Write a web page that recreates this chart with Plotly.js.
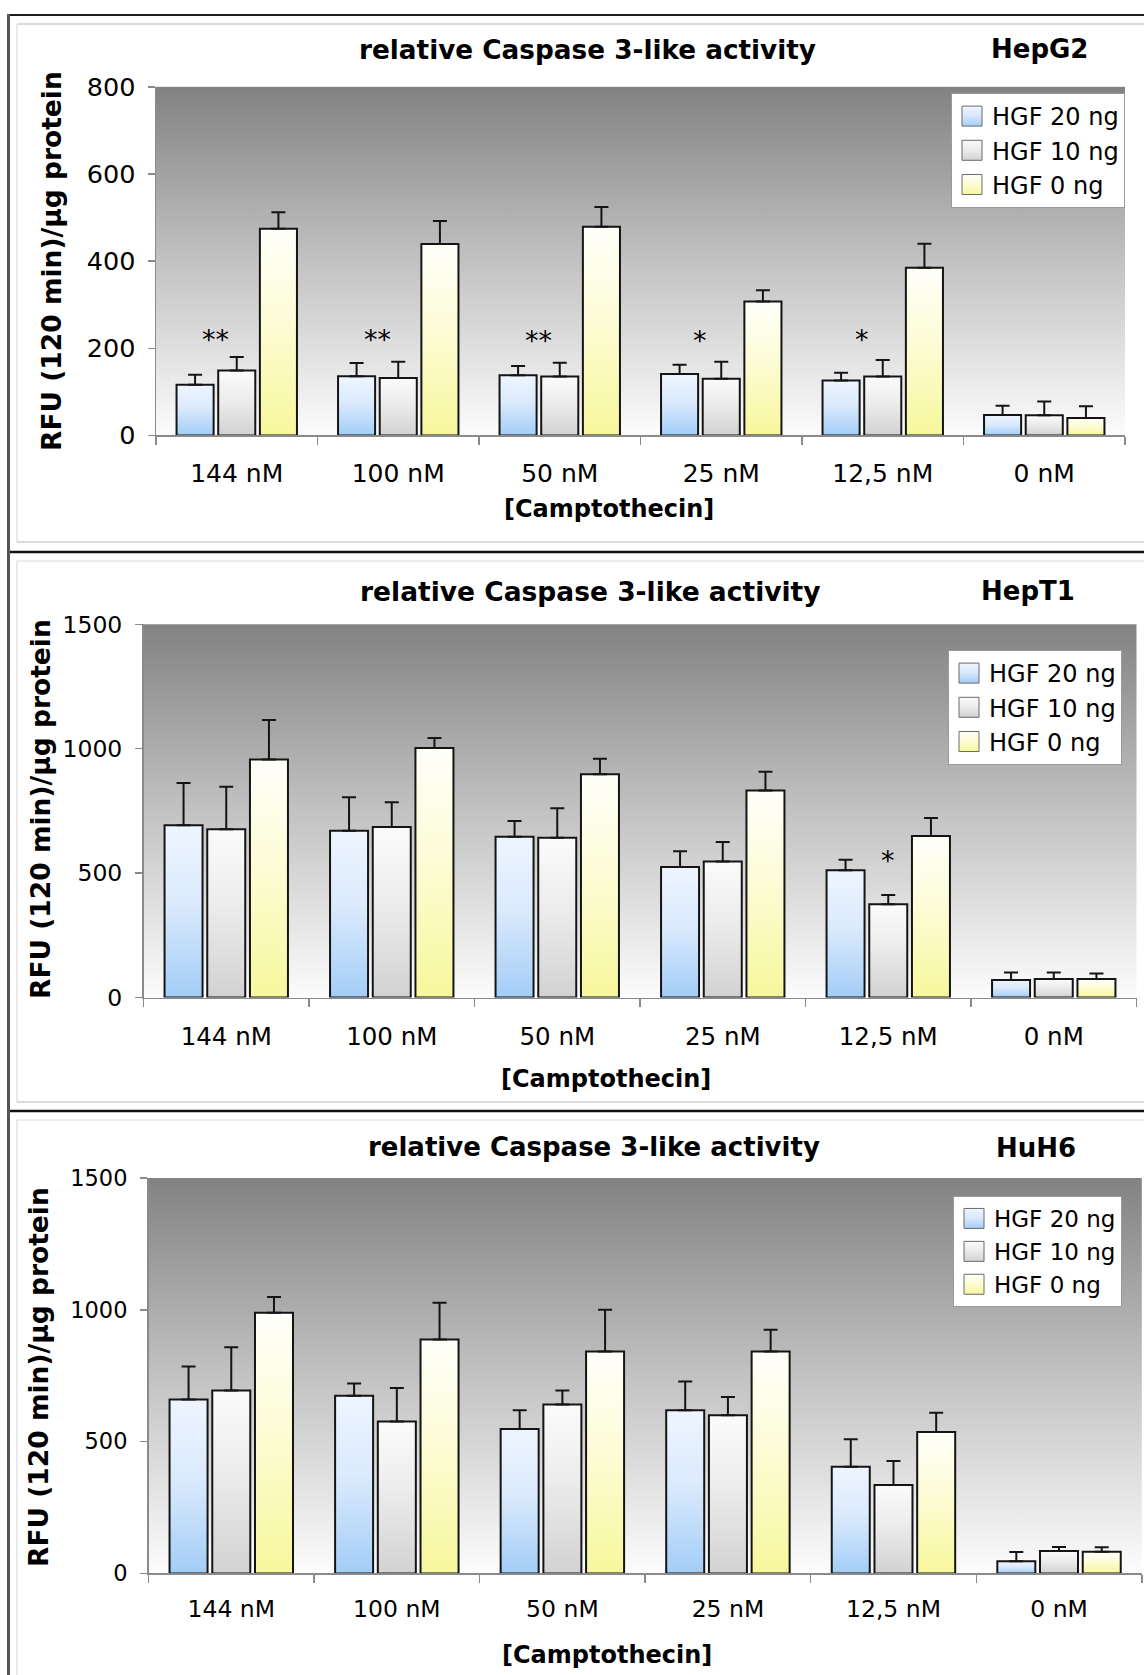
<!DOCTYPE html>
<html>
<head>
<meta charset="utf-8">
<script src="https://cdn.plot.ly/plotly-3.0.1.min.js"></script>
<style>
html,body{margin:0;padding:0;background:#ffffff;}
#chart{width:1144px;height:1675px;}
</style>
</head>
<body>
<div id="chart"></div>
<script>
// ---------------- DATA ----------------
const categories = ['144 nM', '100 nM', '50 nM', '25 nM', '12,5 nM', '0 nM'];
const seriesNames = ['HGF 20 ng', 'HGF 10 ng', 'HGF 0 ng'];
const cellLines = ['HepG2', 'HepT1', 'HuH6'];
const chartTitle = 'relative Caspase 3-like activity';
const yAxisTitle = 'RFU (120 min)/µg protein';
const xAxisTitle = '[Camptothecin]';

// HepG2
const hepg2_hgf20    = [116, 136, 138, 141, 126, 47];
const hepg2_hgf20_sd = [23, 30, 21, 21, 18, 21];
const hepg2_hgf10    = [149, 132, 135, 130, 135, 46];
const hepg2_hgf10_sd = [31, 37, 32, 39, 38, 32];
const hepg2_hgf0     = [474, 439, 479, 307, 385, 40];
const hepg2_hgf0_sd  = [38, 53, 45, 26, 55, 27];
const hepg2_sig      = ['**', '**', '**', '*', '*', ''];
const hepg2_sigY     = [232, 232, 229, 229, 232, null];

// HepT1
const hept1_hgf20    = [692, 670, 646, 525, 511, 70];
const hept1_hgf20_sd = [170, 135, 63, 63, 43, 30];
const hept1_hgf10    = [676, 685, 642, 547, 375, 74];
const hept1_hgf10_sd = [171, 100, 119, 78, 37, 26];
const hept1_hgf0     = [957, 1003, 897, 832, 649, 74];
const hept1_hgf0_sd  = [158, 40, 63, 75, 72, 22];
const hept1_sig      = ['', '', '', '', '*', ''];
const hept1_sigY     = [null, null, null, null, 570, null];

// HuH6
const huh6_hgf20     = [660, 674, 548, 619, 405, 46];
const huh6_hgf20_sd  = [125, 46, 71, 109, 104, 35];
const huh6_hgf10     = [694, 576, 641, 600, 335, 85];
const huh6_hgf10_sd  = [164, 127, 53, 69, 91, 15];
const huh6_hgf0      = [989, 887, 842, 842, 536, 82];
const huh6_hgf0_sd   = [60, 140, 158, 82, 73, 17];
const huh6_sig       = ['', '', '', '', '', ''];
const huh6_sigY      = [null, null, null, null, null, null];

const yMaxes = [800, 1500, 1500];
const yDticks = [200, 500, 500];

// ---------------- LAYOUT / STYLE ----------------
const W = 1144, H = 1675;
const FONT = 'DejaVu Sans, Verdana, sans-serif';
const px = x => x / W;
const py = y => 1 - y / H;

const panelData = [
  {vals: [hepg2_hgf20, hepg2_hgf10, hepg2_hgf0], sds: [hepg2_hgf20_sd, hepg2_hgf10_sd, hepg2_hgf0_sd], sig: hepg2_sig, sigY: hepg2_sigY},
  {vals: [hept1_hgf20, hept1_hgf10, hept1_hgf0], sds: [hept1_hgf20_sd, hept1_hgf10_sd, hept1_hgf0_sd], sig: hept1_sig, sigY: hept1_sigY},
  {vals: [huh6_hgf20, huh6_hgf10, huh6_hgf0],   sds: [huh6_hgf20_sd, huh6_hgf10_sd, huh6_hgf0_sd],   sig: huh6_sig,  sigY: huh6_sigY}
];

const cfg = [
  {plot:{l:156, t:86.8, r:1125, b:435.4}, yTick:25.5, xTick:25, yStand:7, xStand:15,
   title:{x:587, y:50, s:26.3}, cell:{x:1039, y:49, s:26}, ytitle:{x:51, y:261, s:26.5}, xtitle:{x:609, y:509, s:24},
   legend:{r:1125, t:93, s:24}, sig:{xshift:-21, yshift:-5, s:27}},
  {plot:{l:143.5, t:624.3, r:1136.5, b:997.5}, yTick:23.5, xTick:24.5, yStand:8, xStand:17,
   title:{x:590, y:591, s:26.5}, cell:{x:1028, y:591, s:26}, ytitle:{x:40, y:809, s:26.5}, xtitle:{x:606, y:1079, s:24},
   legend:{r:1122, t:650, s:24}, sig:{xshift:0, yshift:-5, s:27}},
  {plot:{l:148.5, t:1178, r:1141.8, b:1573.4}, yTick:22.5, xTick:23.5, yStand:8, xStand:14,
   title:{x:594, y:1147, s:26}, cell:{x:1036, y:1148, s:26}, ytitle:{x:38, y:1377, s:26.5}, xtitle:{x:607, y:1655, s:24},
   legend:{r:1122, t:1196, s:23}, sig:{xshift:0, yshift:-5, s:27}}
];

// identifying solid colours (replaced by gradients after rendering)
const solid = ['#b5d6f8', '#dedede', '#f8f8b8'];
const PLOT_BG = '#fefefe';
const gradStops = [
  [[0, '#eef5ff'], [0.45, '#dbeafc'], [1, '#a3cdf7']],
  [[0, '#fbfbfb'], [0.45, '#ececec'], [1, '#d2d2d2']],
  [[0, '#fffffb'], [0.45, '#fcfcd6'], [1, '#f7f79c']]
];
const bgStops = [[0, '#828282'], [0.5, '#c2c2c2'], [1, '#fcfcfc']];

const traces = [];
const layout = {
  width: W, height: H, autosize: false,
  margin: {l: 0, r: 0, t: 0, b: 0, pad: 0},
  paper_bgcolor: '#ffffff', plot_bgcolor: PLOT_BG,
  font: {family: FONT, color: '#000000'},
  barmode: 'group', bargap: 0.226, bargroupgap: 0.11,
  hovermode: false, showlegend: true,
  annotations: [], shapes: []
};

cfg.forEach((c, p) => {
  const sfx = p === 0 ? '' : String(p + 1);
  const xa = 'x' + sfx, ya = 'y' + sfx;
  const legendId = 'legend' + sfx;
  const d = panelData[p];

  for (let s = 0; s < 3; s++) {
    traces.push({
      type: 'bar', name: seriesNames[s], x: categories, y: d.vals[s],
      xaxis: xa, yaxis: ya, legend: legendId,
      marker: {color: solid[s], line: {color: '#141414', width: 2}},
      error_y: {type: 'data', symmetric: false, array: d.sds[s], arrayminus: d.sds[s].map(() => 0),
                color: '#141414', thickness: 2, width: 7},
      hoverinfo: 'skip'
    });
  }

  layout['xaxis' + sfx] = {
    type: 'category', domain: [px(c.plot.l), px(c.plot.r)], anchor: ya,
    tickson: 'boundaries', ticks: 'outside', ticklen: 8, tickwidth: 1.5, tickcolor: '#8a8a8a',
    showline: true, linecolor: '#8a8a8a', linewidth: 1.5, showgrid: false, zeroline: false,
    tickfont: {family: FONT, size: c.xTick, color: '#000'}, ticklabelstandoff: c.xStand,
    fixedrange: true
  };
  layout['yaxis' + sfx] = {
    domain: [py(c.plot.b), py(c.plot.t)], anchor: xa,
    range: [0, yMaxes[p]], dtick: yDticks[p], tick0: 0,
    ticks: 'outside', ticklen: 7, tickwidth: 1.5, tickcolor: '#8a8a8a',
    showline: true, linecolor: '#8a8a8a', linewidth: 1.5, showgrid: false, zeroline: false,
    tickfont: {family: FONT, size: c.yTick, color: '#000'}, ticklabelstandoff: c.yStand,
    fixedrange: true
  };
  layout[legendId] = {
    x: px(c.legend.r), xanchor: 'right', y: py(c.legend.t), yanchor: 'top',
    bgcolor: '#ffffff', bordercolor: '#9a9a9a', borderwidth: 1,
    font: {family: FONT, size: c.legend.s, color: '#000'},
    traceorder: 'normal', itemclick: false, itemdoubleclick: false, tracegroupgap: 0,
    itemwidth: 30
  };

  const ann = (text, x, y, s, extra) => Object.assign({
    text: text, xref: 'paper', yref: 'paper', x: px(x), y: py(y),
    xanchor: 'center', yanchor: 'middle', showarrow: false,
    font: {family: FONT, size: s, color: '#000'}
  }, extra || {});
  layout.annotations.push(ann('<b>' + chartTitle + '</b>', c.title.x, c.title.y, c.title.s));
  layout.annotations.push(ann('<b>' + cellLines[p] + '</b>', c.cell.x, c.cell.y, c.cell.s));
  layout.annotations.push(ann('<b>' + yAxisTitle + '</b>', c.ytitle.x, c.ytitle.y, c.ytitle.s, {textangle: -90}));
  layout.annotations.push(ann('<b>' + xAxisTitle + '</b>', c.xtitle.x, c.xtitle.y, c.xtitle.s));

  d.sig.forEach((t, i) => {
    if (!t) return;
    layout.annotations.push({
      text: t, xref: xa, yref: ya, x: categories[i], y: d.sigY[i],
      xanchor: 'center', yanchor: 'middle', showarrow: false,
      xshift: c.sig.xshift, yshift: c.sig.yshift,
      font: {family: FONT, size: c.sig.s, color: '#000'}
    });
  });
});

// frame lines
const line = (x0, y0, x1, y1, color, w) => ({type: 'line', xref: 'paper', yref: 'paper',
  x0: px(x0), y0: py(y0), x1: px(x1), y1: py(y1), line: {color: color, width: w}, layer: 'below'});
layout.shapes.push(line(17, 24, 1150, 24, '#cfcfcf', 1.5));
layout.shapes.push(line(17, 24, 17, 542, '#e2e2e2', 1.5));
layout.shapes.push(line(17, 542, 1150, 542, '#cfcfcf', 1.5));
layout.shapes.push(line(17, 561, 1150, 561, '#e6e6e6', 1.5));
layout.shapes.push(line(17, 561, 17, 1102, '#e2e2e2', 1.5));
layout.shapes.push(line(17, 1102, 1150, 1102, '#cfcfcf', 1.5));
layout.shapes.push(line(17, 1120, 1150, 1120, '#e6e6e6', 1.5));
layout.shapes.push(line(17, 1120, 17, 1680, '#e2e2e2', 1.5));
layout.shapes.push(line(8, 15, 1150, 15, '#1e1e1e', 2));
layout.shapes.push(line(8, 552, 1150, 552, '#111111', 2.5));
layout.shapes.push(line(8, 1111, 1150, 1111, '#111111', 2.5));
layout.shapes.push(line(8.5, 14, 8.5, 1680, '#555555', 3));

// ---------------- RENDER ----------------
const NS = 'http://www.w3.org/2000/svg';
function hexToRgb(h) {
  const n = parseInt(h.slice(1), 16);
  return 'rgb(' + ((n >> 16) & 255) + ', ' + ((n >> 8) & 255) + ', ' + (n & 255) + ')';
}
function ensureGrad(defs, id, stops) {
  if (document.getElementById(id)) return;
  const g = document.createElementNS(NS, 'linearGradient');
  g.setAttribute('id', id);
  g.setAttribute('x1', '0'); g.setAttribute('y1', '0');
  g.setAttribute('x2', '0'); g.setAttribute('y2', '1');
  stops.forEach(st => {
    const s = document.createElementNS(NS, 'stop');
    s.setAttribute('offset', st[0]);
    s.setAttribute('stop-color', st[1]);
    g.appendChild(s);
  });
  defs.appendChild(g);
}
function applyGradients(gd) {
  const svg = gd.querySelector('svg.main-svg');
  if (!svg) return;
  let defs = svg.querySelector('defs');
  if (!defs) { defs = document.createElementNS(NS, 'defs'); svg.insertBefore(defs, svg.firstChild); }
  gradStops.forEach((st, i) => ensureGrad(defs, 'barGrad' + i, st));
  ensureGrad(defs, 'plotBgGrad', bgStops);
  const map = {};
  solid.forEach((c, i) => { map[hexToRgb(c)] = 'url(#barGrad' + i + ')'; });
  gd.querySelectorAll('.barlayer .point path').forEach(p => {
    const f = map[p.style.fill];
    if (f) p.style.fill = f;
  });
  gd.querySelectorAll('.legendpoints path').forEach(p => {
    const f = map[p.style.fill];
    if (f) {
      p.style.fill = f;
      p.setAttribute('d', 'M10,10H-10V-10H10Z');
      p.style.stroke = '#6a6a6a';
      p.style.strokeWidth = '1px';
    }
  });
  const bgKey = hexToRgb(PLOT_BG);
  gd.querySelectorAll('rect.bg').forEach(r => {
    if (r.style.fill === bgKey) r.style.fill = 'url(#plotBgGrad)';
  });
}

const gd = document.getElementById('chart');
Plotly.newPlot(gd, traces, layout, {displayModeBar: false, staticPlot: true, responsive: false})
  .then(() => {
    applyGradients(gd);
    gd.on('plotly_afterplot', () => applyGradients(gd));
  });
</script>
</body>
</html>
